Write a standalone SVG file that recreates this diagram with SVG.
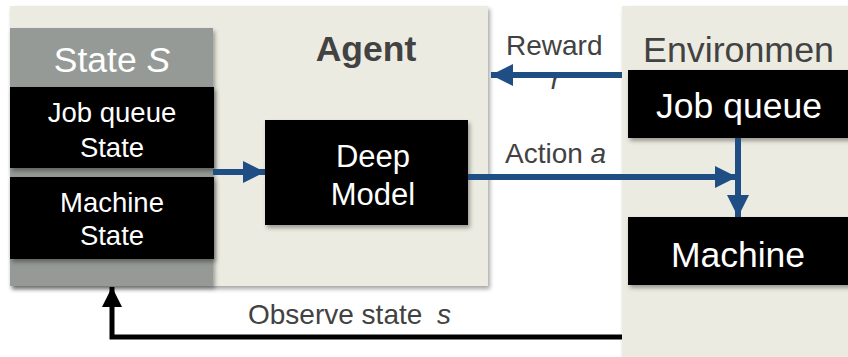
<svg xmlns="http://www.w3.org/2000/svg" width="848" height="357" viewBox="0 0 848 357">
  <defs>
    <filter id="shadow" x="-10%" y="-10%" width="130%" height="130%">
      <feDropShadow dx="2" dy="3" stdDeviation="2" flood-color="#000" flood-opacity="0.35"/>
    </filter>
    <marker id="blueHead" viewBox="0 0 22 22" refX="22" refY="11" markerWidth="22" markerHeight="22" markerUnits="userSpaceOnUse" orient="auto">
      <path d="M0,0 L22,11 L0,22 Z" fill="#1f4e85"/>
    </marker>
    <marker id="blackHead" viewBox="0 0 20 20" refX="20" refY="10" markerWidth="20" markerHeight="20" markerUnits="userSpaceOnUse" orient="auto">
      <path d="M0,0 L20,10 L0,20 Z" fill="#000"/>
    </marker>
  </defs>
  <style>
    .panel { fill: #ecebe1; }
    .box { fill: #000; }
    .t { font-family: "Liberation Sans", Arial, sans-serif; }
    .w { fill: #ffffff; }
    .g { fill: #424242; }
    .blue { stroke: #1f4e85; stroke-width: 6; fill: none; }
    .black { stroke: #000; stroke-width: 5; fill: none; }
  </style>

  <rect width="848" height="357" fill="#ffffff"/>

  <!-- Agent panel -->
  <g id="agent">
    <rect class="panel" x="10" y="6" width="478" height="280" filter="url(#shadow)"/>
    <text class="t g" x="366" y="61" font-size="35.5" font-weight="bold" text-anchor="middle">Agent</text>
  </g>

  <!-- State S panel -->
  <g id="state">
    <rect x="10" y="28" width="203" height="258" fill="#959a96" filter="url(#shadow)"/>
    <text class="t w" x="112" y="72" font-size="35.5" text-anchor="middle">State <tspan font-style="italic">S</tspan></text>
  </g>

  <g id="job-queue-state">
    <rect class="box" x="10" y="87" width="204" height="81" filter="url(#shadow)"/>
    <text class="t w" x="112" y="122" font-size="27.5" text-anchor="middle">Job queue</text>
    <text class="t w" x="112" y="157" font-size="27.5" text-anchor="middle">State</text>
  </g>

  <g id="machine-state">
    <rect class="box" x="10" y="177" width="204" height="82" filter="url(#shadow)"/>
    <text class="t w" x="112" y="212" font-size="27.5" text-anchor="middle">Machine</text>
    <text class="t w" x="112" y="245" font-size="27.5" text-anchor="middle">State</text>
  </g>

  <g id="deep-model">
    <rect class="box" x="265" y="120" width="203" height="105" filter="url(#shadow)"/>
    <text class="t w" x="373" y="167" font-size="31" text-anchor="middle">Deep</text>
    <text class="t w" x="373" y="205" font-size="31" text-anchor="middle">Model</text>
  </g>

  <!-- Environment panel -->
  <g id="environment">
    <rect class="panel" x="622" y="6" width="240" height="360" filter="url(#shadow)"/>
    <text class="t g" x="643" y="62" font-size="35.8">Environmen</text>
  </g>

  <g id="job-queue">
    <rect class="box" x="628" y="70" width="230" height="68" filter="url(#shadow)"/>
    <text class="t w" x="739" y="118" font-size="35.5" text-anchor="middle">Job queue</text>
  </g>

  <g id="machine">
    <rect class="box" x="628" y="217" width="230" height="68" filter="url(#shadow)"/>
    <text class="t w" x="738" y="267" font-size="35.5" text-anchor="middle">Machine</text>
  </g>

  <!-- Connector labels -->
  <g id="labels">
    <text class="t g" x="506" y="55" font-size="28">Reward</text>
    <text class="t g" x="551" y="89" font-size="28" font-style="italic">r</text>
    <text class="t g" x="505" y="163" font-size="28">Action <tspan font-style="italic">a</tspan></text>
    <text class="t g" x="248" y="324" font-size="28">Observe state<tspan x="437" font-style="italic">s</tspan></text>
  </g>

  <!-- Connectors -->
  <g id="connectors">
    <line class="blue" x1="622" y1="75" x2="491" y2="75" marker-end="url(#blueHead)"/>
    <line class="blue" x1="468" y1="177" x2="737" y2="177" marker-end="url(#blueHead)"/>
    <line class="blue" x1="738" y1="138" x2="738" y2="217" marker-end="url(#blueHead)"/>
    <line class="blue" x1="213" y1="172" x2="265" y2="172" marker-end="url(#blueHead)"/>
    <polyline class="black" points="622,337 112,337 112,287" marker-end="url(#blackHead)"/>
  </g>
</svg>
